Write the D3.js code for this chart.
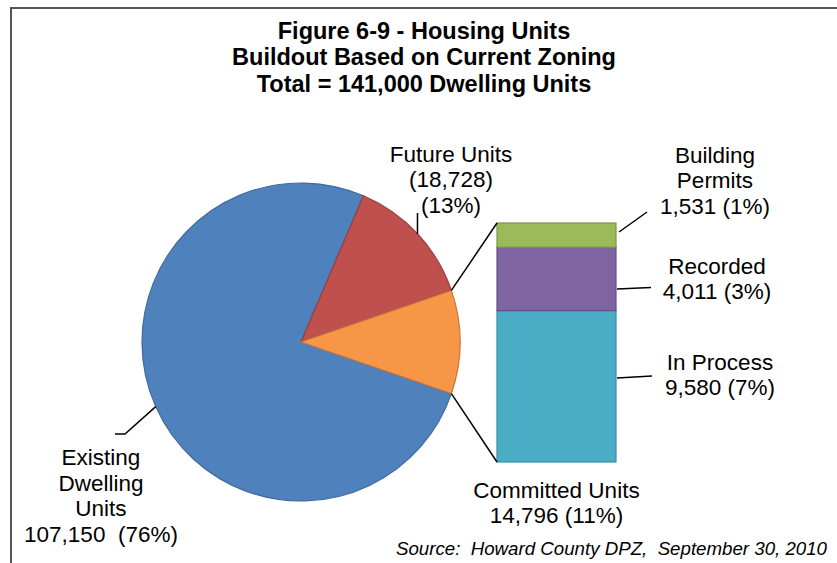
<!DOCTYPE html>
<html>
<head>
<meta charset="utf-8">
<style>
  body { margin: 0; background: #ffffff; }
  svg { display: block; }
  text { font-family: "Liberation Sans", Arial, sans-serif; fill: #000; }
</style>
</head>
<body>
<div id="chart"></div>
<script src="https://d3js.org/d3.v7.min.js"></script>
<script>
// chart values
var titleLines = ["Figure 6-9 - Housing Units", "Buildout Based on Current Zoning", "Total = 141,000 Dwelling Units"];
var pieNames = ["Existing Dwelling Units", "Future Units", "Committed Units"];
var pieValues = [107150, 18728, 14796];
var pieShares = ["76%", "13%", "11%"];
var barNames = ["In Process", "Recorded", "Building Permits"];
var barValues = [9580, 4011, 1531];
var barShares = ["7%", "3%", "1%"];
var sourceText = "Source:  Howard County DPZ,  September 30, 2010";

var pieColors = ["#4F81BD", "#C0504D", "#F79646"];
var pieEdges = ["#3F6A9E", "#99403D", "#C8773A"];
var barColors = ["#4BACC6", "#8064A2", "#9BBB59"];
var barEdges = ["#3A8CA2", "#654F82", "#7C9647"];

var W = 837, H = 563;
var fmt = d3.format(",");

var svg = d3.select("#chart").append("svg")
    .attr("width", W)
    .attr("height", H);

// frame (chart area border, runs off right and bottom)
svg.append("rect")
    .attr("x", 11).attr("y", 8)
    .attr("width", 900).attr("height", 700)
    .attr("fill", "none")
    .attr("stroke", "#555")
    .attr("stroke-width", 2);

// title
svg.selectAll(".title")
  .data(titleLines)
  .enter().append("text")
    .attr("class", "title")
    .attr("x", 424)
    .attr("y", function(d, i) { return 38.5 + i * 26.8; })
    .attr("text-anchor", "middle")
    .attr("font-size", "23.5px")
    .attr("font-weight", "bold")
    .text(function(d) { return d; });

// pie
var cx = 301, cy = 342, R = 159;
var total = d3.sum(pieValues);
var lastAngle = 2 * Math.PI * pieValues[2] / total;
var start = Math.PI / 2 + lastAngle / 2;

var pie = d3.pie().sort(null).startAngle(start).endAngle(start + 2 * Math.PI);
var arcs = pie(pieValues);
var arc = d3.arc().innerRadius(0).outerRadius(R);

var pg = svg.append("g").attr("transform", "translate(" + cx + "," + cy + ")");
pg.selectAll("path")
  .data(arcs)
  .enter().append("path")
    .attr("d", arc)
    .attr("fill", function(d, i) { return pieColors[i]; })
    .attr("stroke", function(d, i) { return pieEdges[i]; })
    .attr("stroke-width", 1.2);

function onArc(a, r) {
  return [cx + r * Math.sin(a), cy - r * Math.cos(a)];
}

// stacked bar
var barX0 = 497, barX1 = 616;
var y = d3.scaleLinear().domain([0, d3.sum(barValues)]).range([462, 223]);
var cum = 0;
var segs = barValues.map(function(v) { var s = {y0: cum, y1: cum + v}; cum += v; return s; });

svg.append("g").selectAll("rect")
  .data(segs)
  .enter().append("rect")
    .attr("x", barX0)
    .attr("y", function(d) { return y(d.y1); })
    .attr("width", barX1 - barX0)
    .attr("height", function(d) { return y(d.y0) - y(d.y1); })
    .attr("fill", function(d, i) { return barColors[i]; })
    .attr("stroke", function(d, i) { return barEdges[i]; })
    .attr("stroke-width", 1.2);

// connectors from the committed slice to the bar
var cs = arcs[2];
var pTop = onArc(cs.startAngle, R), pBot = onArc(cs.endAngle, R);
svg.append("line")
    .attr("x1", pTop[0]).attr("y1", pTop[1])
    .attr("x2", barX0).attr("y2", y(d3.sum(barValues)))
    .attr("stroke", "#000").attr("stroke-width", 1.5);
svg.append("line")
    .attr("x1", pBot[0]).attr("y1", pBot[1])
    .attr("x2", barX0).attr("y2", y(0))
    .attr("stroke", "#000").attr("stroke-width", 1.5);

// labels
var FS = "22.5px", LH = 25.7;
function label(lines, x, y0) {
  var t = svg.append("text")
      .attr("text-anchor", "middle")
      .attr("font-size", FS);
  lines.forEach(function(s, i) {
    t.append("tspan")
      .attr("x", x)
      .attr("y", y0 + i * LH)
      .attr("xml:space", "preserve")
      .text(s);
  });
}
function leader(pts) {
  svg.append("path")
    .attr("d", d3.line()(pts))
    .attr("fill", "none")
    .attr("stroke", "#000")
    .attr("stroke-width", 1.5);
}

// existing dwelling units
var mid0 = (arcs[0].startAngle + arcs[0].endAngle) / 2;
var e0 = onArc(mid0, R);
leader([e0, [125, 434], [115, 434]]);
label(["Existing", "Dwelling", "Units", fmt(pieValues[0]) + "  (" + pieShares[0] + ")"], 101, 465);

// future units
var mid1 = (arcs[1].startAngle + arcs[1].endAngle) / 2;
var e1 = onArc(mid1, R);
leader([e1, [e1[0], 213]]);
label(["Future Units", "(" + fmt(pieValues[1]) + ")", "(" + pieShares[1] + ")"], 451, 161.5);

// committed units
label(["Committed Units", fmt(pieValues[2]) + " (" + pieShares[2] + ")"], (barX0 + barX1) / 2, 497.5);

// bar labels
leader([[barX1 + 3, 232], [647, 212]]);
label(["Building", "Permits", fmt(barValues[2]) + " (" + barShares[2] + ")"], 715, 162.5);

leader([[barX1 + 1, 289], [651, 287.5]]);
label([barNames[1], fmt(barValues[1]) + " (" + barShares[1] + ")"], 717, 273.5);

leader([[barX1 + 1, 378], [652, 376]]);
label([barNames[0], fmt(barValues[0]) + " (" + barShares[0] + ")"], 720, 369.5);

// source
svg.append("text")
    .attr("x", 827)
    .attr("y", 555)
    .attr("text-anchor", "end")
    .attr("font-size", "18.7px")
    .attr("font-style", "italic")
    .attr("xml:space", "preserve")
    .text(sourceText);
</script>
</body>
</html>
